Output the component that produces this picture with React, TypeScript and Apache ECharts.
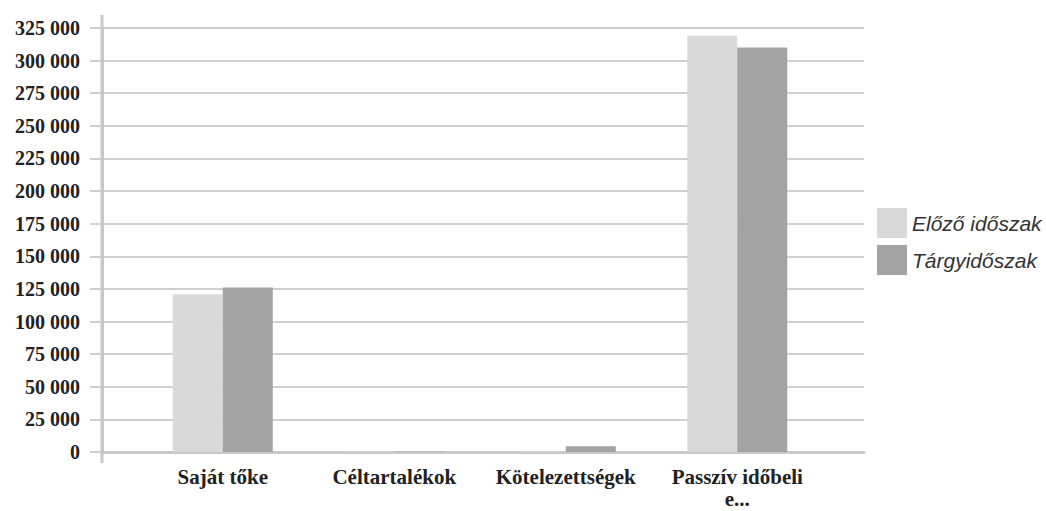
import React, { useEffect, useRef } from "react";
import * as echarts from "echarts";

const categories = ["Saját tőke", "Céltartalékok", "Kötelezettségek", "Passzív időbeli\ne..."];
const seriesNames = ["Előző időszak", "Tárgyidőszak"];
const elozo = [121000, 200, 500, 319000];
const targy = [126000, 300, 4500, 310000];
const yMax = 325000;
const yStep = 25000;

const fmt = (v: number) => String(v).replace(/\B(?=(\d{3})+(?!\d))/g, " ");

export default function App() {
  const ref = useRef<HTMLDivElement>(null);
  useEffect(() => {
    if (!ref.current) return;
    const chart = echarts.init(ref.current, undefined, { renderer: "svg" });
    const top = 28;
    const height = 424;
    chart.setOption({
      animation: false,
      backgroundColor: "#ffffff",
      grid: [
        { left: 102, width: 762, top, height, outerBoundsMode: "none", containLabel: false },
        { left: 137, width: 686, top, height, outerBoundsMode: "none", containLabel: false },
      ],
      graphic: [
        {
          type: "line",
          shape: { x1: 102, y1: 15, x2: 102, y2: 463 },
          style: { stroke: "#c8c8c8", lineWidth: 3 },
          z: 1,
        },
      ],
      legend: {
        orient: "vertical",
        left: 872,
        top: 203,
        itemWidth: 30,
        itemHeight: 30,
        itemGap: 7,
        icon: "rect",
        data: seriesNames,
        textStyle: {
          fontFamily: "Liberation Sans",
          fontStyle: "italic",
          fontSize: 21,
          color: "#333",
        },
      },
      xAxis: [
        {
          gridIndex: 0,
          type: "value",
          min: 0,
          max: 1,
          axisLabel: { show: false },
          axisTick: { show: false },
          splitLine: { show: false },
          axisLine: { show: true, lineStyle: { color: "#c8c8c8", width: 3 } },
        },
        {
          gridIndex: 1,
          type: "category",
          data: categories,
          axisLine: { show: false },
          axisTick: { show: false },
          axisLabel: {
            interval: 0,
            margin: 14,
            fontFamily: "Liberation Serif",
            fontWeight: "bold",
            fontSize: 21,
            color: "#222",
            lineHeight: 22,
          },
        },
      ],
      yAxis: [
        {
          gridIndex: 0,
          type: "value",
          min: 0,
          max: yMax,
          interval: yStep,
          axisLine: { show: true, lineStyle: { color: "#c8c8c8", width: 3 } },
          axisTick: { show: true, length: 12, lineStyle: { color: "#c0c0c0", width: 1.5 } },
          splitLine: { show: true, lineStyle: { color: "#c0c0c0", width: 1.5 } },
          axisLabel: {
            margin: 22,
            formatter: (v: number) => fmt(v),
            fontFamily: "Liberation Serif",
            fontWeight: "bold",
            fontSize: 20,
            color: "#222",
          },
        },
        {
          gridIndex: 1,
          type: "value",
          min: 0,
          max: yMax,
          interval: yStep,
          axisLine: { show: false },
          axisTick: { show: false },
          splitLine: { show: false },
          axisLabel: { show: false },
        },
      ],
      series: [
        {
          name: seriesNames[0],
          type: "bar",
          xAxisIndex: 1,
          yAxisIndex: 1,
          data: elozo,
          barWidth: 50,
          barGap: "0%",
          itemStyle: { color: "#d9d9d9" },
        },
        {
          name: seriesNames[1],
          type: "bar",
          xAxisIndex: 1,
          yAxisIndex: 1,
          data: targy,
          barWidth: 50,
          barGap: "0%",
          itemStyle: { color: "#a3a3a3" },
        },
      ],
    });
    return () => chart.dispose();
  }, []);
  return <div ref={ref} style={{ width: 1046, height: 511, position: "absolute", left: 0, top: 0 }} />;
}
